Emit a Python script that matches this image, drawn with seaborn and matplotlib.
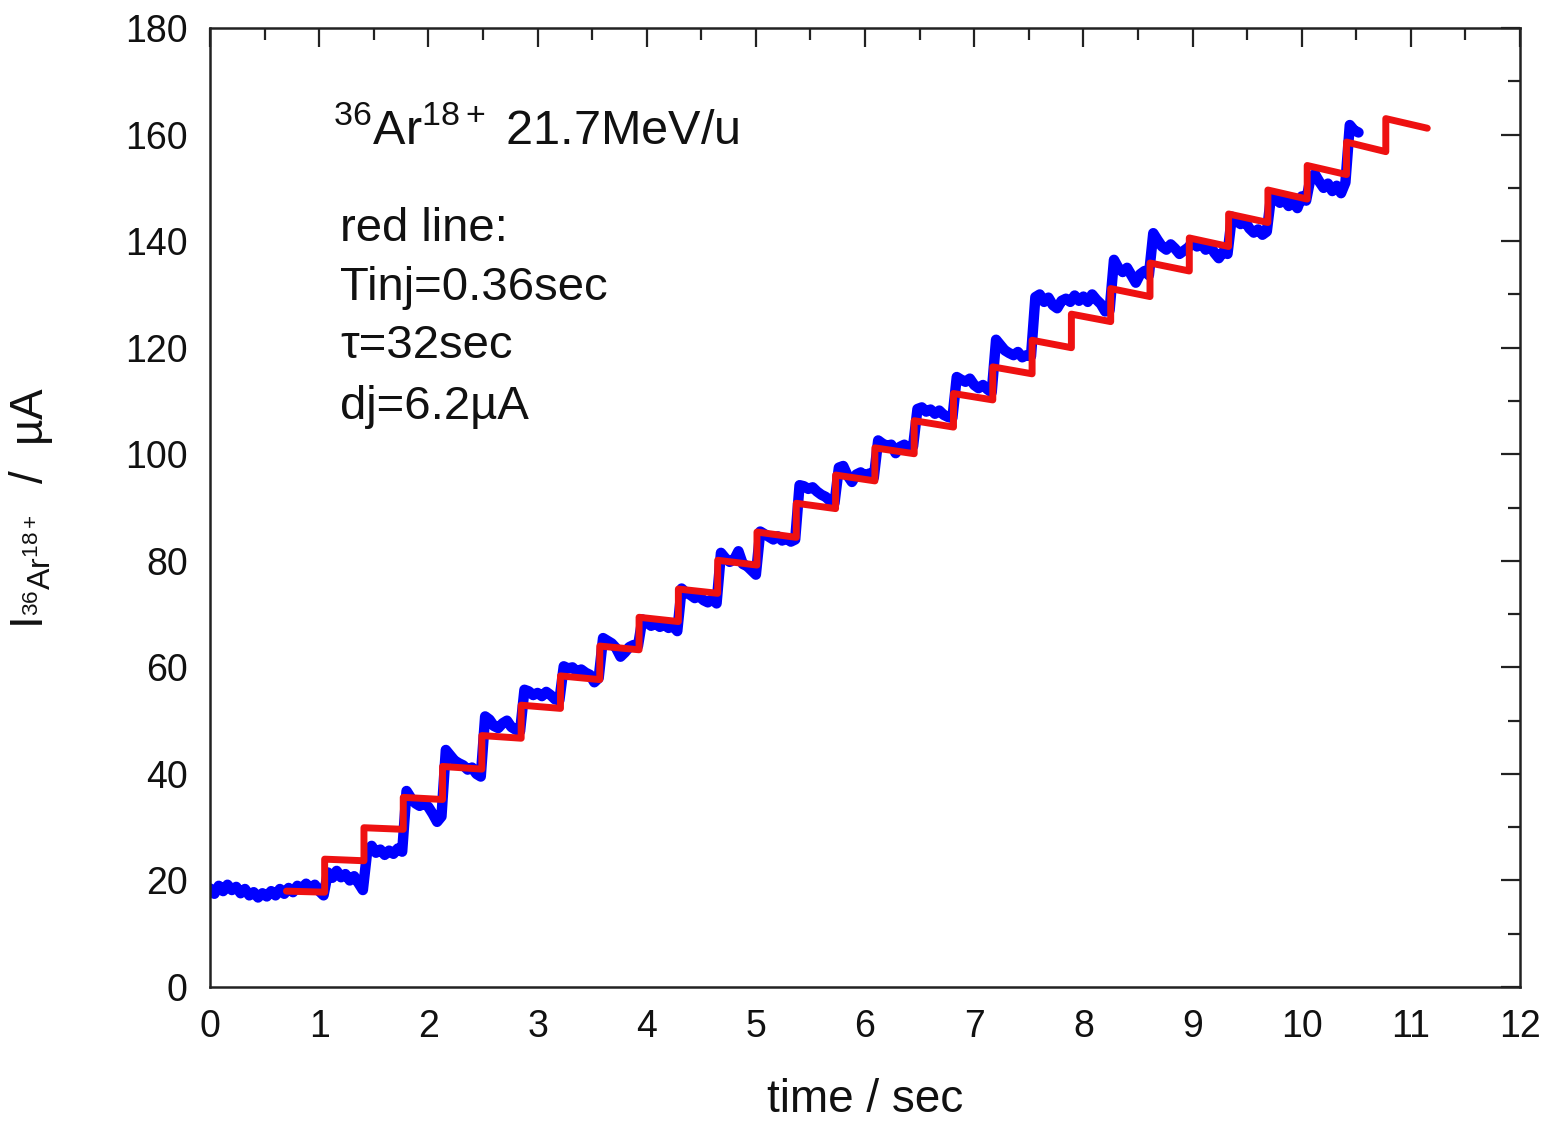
import numpy as np
import pandas as pd
import matplotlib
matplotlib.use("Agg")
import matplotlib.pyplot as plt
import seaborn as sns
from matplotlib.ticker import MultipleLocator

# ---------------- data ----------------
# measured beam current (blue trace), one reading every 0.04 s starting at t = 0
sample_interval = 0.04
blue_current = [
    # 0.00 - 1.04 s (before first injection)
    18.5, 17.5, 19.0, 18.0, 19.2, 18.2, 18.8, 17.6, 18.4, 17.2, 17.8, 16.8, 17.6, 17.0,
    18.0, 17.2, 18.4, 17.5, 18.6, 17.8, 19.0, 18.5, 19.4, 18.4, 19.2, 18.0, 17.2,
    # after each injection (9 samples per 0.36 s cycle)
    21.5, 20.5, 21.8, 20.6, 21.2, 20.0, 20.8, 19.5, 18.2,
    25.5, 26.5, 25.2, 25.8, 24.8, 25.6, 25.0, 26.0, 25.4,
    36.8, 35.5, 34.5, 34.0, 34.5, 33.8, 32.5, 31.0, 32.0,
    44.5, 43.5, 42.5, 42.0, 41.6, 40.8, 41.2, 40.0, 39.5,
    50.8, 50.2, 49.0, 48.6, 49.5, 50.0, 48.8, 48.3, 48.0,
    55.8, 55.5, 54.8, 55.2, 54.6, 55.4, 54.8, 54.0, 53.8,
    60.2, 59.8, 60.0, 59.2, 59.6, 59.0, 58.6, 57.2, 58.0,
    65.5, 65.0, 64.5, 63.6, 62.0, 62.8, 63.8, 64.2, 64.0,
    69.0, 68.5, 67.8, 68.2, 67.6, 68.0, 67.4, 67.8, 66.8,
    74.8, 74.0, 73.6, 73.0, 73.4, 72.6, 72.2, 72.8, 72.0,
    81.5, 80.5, 79.8, 80.2, 81.8, 79.4, 79.0, 78.2, 77.4,
    85.5, 85.0, 84.5, 84.0, 84.6, 83.8, 84.2, 83.6, 84.0,
    94.2, 94.0, 93.5, 93.8, 93.0, 92.4, 92.0, 91.2, 90.8,
    97.5, 97.8, 96.0, 94.8, 96.2, 96.6, 96.0, 96.4, 95.6,
    102.6, 102.0, 101.6, 101.8, 100.2, 101.4, 101.8, 101.0, 101.5,
    108.5, 108.8, 108.0, 108.4, 107.6, 108.2, 107.4, 107.0, 106.8,
    114.5, 114.0, 113.6, 114.2, 113.0, 112.4, 113.0, 112.2, 111.6,
    121.5, 120.5, 119.5, 119.0, 118.6, 119.2, 118.2, 118.6, 118.4,
    129.5, 130.0, 128.6, 129.4, 128.0, 127.4, 128.8, 129.2, 128.6,
    129.8, 128.8, 129.6, 128.6, 130.0, 129.0, 128.2, 126.8, 127.0,
    136.5, 135.0, 134.2, 135.0, 133.6, 132.2, 133.8, 134.4, 133.6,
    141.5, 140.2, 139.0, 138.4, 139.4, 138.6, 137.6, 138.2, 138.8,
    139.8, 139.0, 139.6, 138.4, 139.2, 137.8, 136.8, 138.0, 137.6,
    144.6, 143.8, 143.2, 143.8, 142.4, 141.6, 142.2, 141.2, 141.8,
    148.6, 148.0, 147.2, 147.8, 146.6, 147.4, 146.2, 148.4, 147.6,
    151.8, 152.6, 151.2, 150.0, 150.8, 149.4, 150.4, 149.0, 151.0,
    161.8, 160.8, 160.4,
]

# model curve (red line): start point, injections, end point
red_start_time = 0.70
red_start_current = 18.0
injection_times = [1.05, 1.41, 1.77, 2.13, 2.49, 2.85, 3.21, 3.57, 3.93, 4.29,
                   4.65, 5.01, 5.37, 5.73, 6.09, 6.45, 6.81, 7.17, 7.53, 7.89,
                   8.25, 8.61, 8.97, 9.33, 9.69, 10.05, 10.41, 10.77]
red_before = [17.8, 23.7, 29.6, 35.2, 40.9, 46.7, 52.3, 57.7, 63.3, 68.6,
              73.9, 79.2, 84.4, 89.8, 95.0, 100.1, 105.1, 110.2, 115.1, 120.0,
              124.9, 129.6, 134.4, 139.0, 143.5, 147.9, 152.5, 156.8]
red_after = [24.0, 29.9, 35.6, 41.4, 47.2, 52.9, 58.4, 64.0, 69.4, 74.7,
             80.1, 85.4, 90.8, 96.1, 101.2, 106.3, 111.4, 116.4, 121.4, 126.3,
             131.1, 135.9, 140.6, 145.1, 149.6, 154.2, 158.6, 163.0]
red_end_time = 11.15
red_end_current = 161.2

x_ticks = list(range(0, 13))
y_ticks = list(range(0, 181, 20))

# ---------------- build tables ----------------
blue_df = pd.DataFrame({
    "time": np.arange(len(blue_current)) * sample_interval,
    "current": blue_current,
})

red_t = [red_start_time]
red_i = [red_start_current]
for t, b, a in zip(injection_times, red_before, red_after):
    red_t += [t, t]
    red_i += [b, a]
red_t.append(red_end_time)
red_i.append(red_end_current)
red_df = pd.DataFrame({"time": red_t, "current": red_i})

# ---------------- style ----------------
sns.set_theme(style="white")
plt.rcParams["font.family"] = ["Liberation Sans", "DejaVu Sans"]
plt.rcParams["mathtext.fontset"] = "custom"
plt.rcParams["mathtext.rm"] = "Liberation Sans"
plt.rcParams["mathtext.it"] = "Liberation Sans:italic"
plt.rcParams["mathtext.bf"] = "Liberation Sans:bold"

fig = plt.figure(figsize=(15.5, 11.22), dpi=100)
ax = fig.add_axes([0.1355, 0.1203, 0.8452, 0.8547])

sns.lineplot(data=blue_df, x="time", y="current", sort=False, estimator=None,
             color="#0000FF", linewidth=7.5, ax=ax)
sns.lineplot(data=red_df, x="time", y="current", sort=False, estimator=None,
             color="#EE1111", linewidth=5, ax=ax)

ax.set_xlim(0, 12)
ax.set_ylim(0, 180)
ax.set_xticks(x_ticks)
ax.set_yticks(y_ticks)
ax.xaxis.set_minor_locator(MultipleLocator(0.5))
ax.yaxis.set_minor_locator(MultipleLocator(10))
ax.tick_params(which="both", direction="in", top=True, right=True,
               color="#222222", width=1.6)
ax.tick_params(which="major", length=14, labelsize=27, pad=16, labelcolor="#111111")
ax.tick_params(which="minor", length=8.5)
for s in ax.spines.values():
    s.set_linewidth(1.8)
    s.set_color("#222222")

ax.set_xlabel("time / sec", fontsize=33, color="#111111")
ax.set_ylabel(r"$\mathregular{I_{{}^{36}Ar^{18+}}}$  /  µA", fontsize=33, color="#111111")
ax.xaxis.set_label_coords(0.5, -0.095)
ax.xaxis.label.set_va("top")
ax.yaxis.set_label_coords(-0.118, 0.5)

ax.text(1.13, 158.3, r"$\mathregular{^{36}}$Ar$\mathregular{^{18+}}$ 21.7MeV/u",
        fontsize=35, va="baseline", ha="left", color="#111111")
notes = ["red line:", "Tinj=0.36sec", "τ=32sec", "dj=6.2µA"]
note_y = [140.1, 128.9, 118.0, 106.7]
for txt, yy in zip(notes, note_y):
    ax.text(1.19, yy, txt, fontsize=34, va="baseline", ha="left", color="#111111")

fig.savefig("out.png", dpi=100)
